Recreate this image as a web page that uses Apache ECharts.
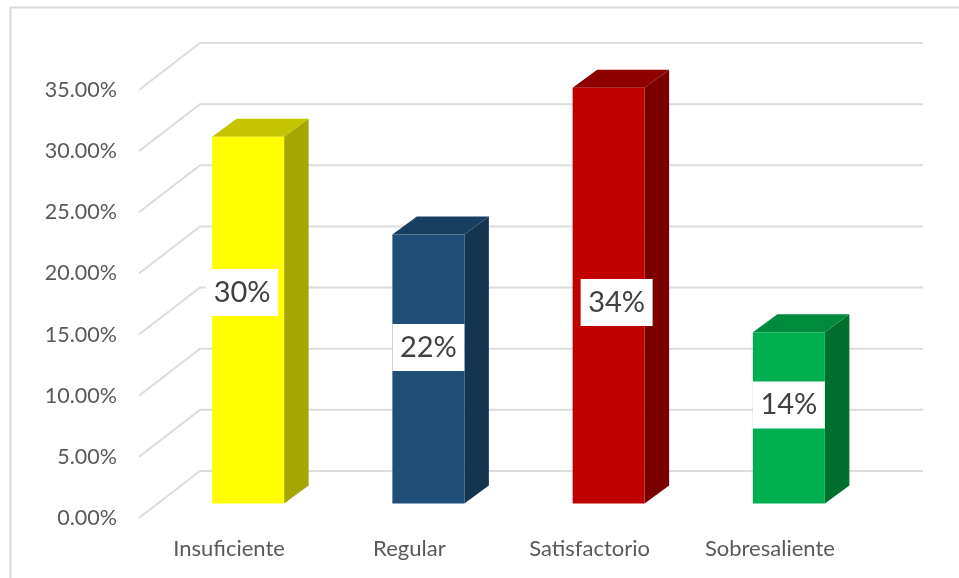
<!DOCTYPE html>
<html>
<head>
<meta charset="utf-8">
<style>
  html, body { margin: 0; padding: 0; background: #fff; }
  #chart { width: 959px; height: 578px; }
</style>
<script src="https://cdn.jsdelivr.net/npm/echarts@6/dist/echarts.min.js"></script>
</head>
<body>
<div id="chart"></div>
<script>
const categories = ['Insuficiente', 'Regular', 'Satisfactorio', 'Sobresaliente'];
const values = [30, 22, 34, 14];
const barLabels = ['30%', '22%', '34%', '14%'];
const yTicks = [0, 5, 10, 15, 20, 25, 30, 35];

// front, side, top
const barColors = [
  ['#FFFF00', '#A6A600', '#C4C400'],
  ['#1F4E79', '#15344F', '#183E60'],
  ['#C00000', '#7A0000', '#8E0000'],
  ['#00B050', '#00702F', '#008A3D']
];
// hand placed labels, pixels from the middle of the bar front
const labelShift = [[-6, -27.5], [0, -21.5], [8, 7], [0, -13]];

const wallDx = 61, wallDy = 47;  // back wall seen from the front plane
const wallExtra = 2;
const barDx = 19, barDy = 14.5;  // bar front seen from the front plane
const depthDx = 24.5, depthDy = 18;
const barWidth = 72;
const labelBoxHeight = 47;
const fontFamily = 'Lato, "Noto Sans", sans-serif';

const chart = echarts.init(document.getElementById('chart'));

function renderWall(params, api) {
  const p = api.coord([0, api.value(1)]);
  const left = params.coordSys.x;
  const right = left + params.coordSys.width;
  return {
    type: 'polyline',
    silent: true,
    shape: {
      points: [[left, p[1]], [left + wallDx, p[1] - wallDy], [right + wallDx + wallExtra, p[1] - wallDy]]
    },
    style: { fill: null, stroke: '#DCDCDC', lineWidth: 2 }
  };
}

function renderBar(params, api) {
  const i = api.value(0);
  const top = api.coord([i, api.value(1)]);
  const base = api.coord([i, 0]);
  const x0 = top[0] + barDx - barWidth / 2;
  const x1 = x0 + barWidth;
  const y0 = top[1] - barDy;
  const y1 = base[1] - barDy;
  const c = barColors[i];
  const midX = (x0 + x1) / 2 + labelShift[i][0];
  const midY = (y0 + y1) / 2 + labelShift[i][1];
  return {
    type: 'group',
    children: [
      {
        type: 'polygon',
        shape: { points: [[x1, y0], [x1 + depthDx, y0 - depthDy], [x1 + depthDx, y1 - depthDy], [x1, y1]] },
        style: { fill: c[1] }
      },
      {
        type: 'polygon',
        shape: { points: [[x0, y0], [x0 + depthDx, y0 - depthDy], [x1 + depthDx, y0 - depthDy], [x1, y0]] },
        style: { fill: c[2] }
      },
      {
        type: 'rect',
        shape: { x: x0, y: y0, width: barWidth, height: y1 - y0 },
        style: { fill: c[0] }
      },
      {
        type: 'rect',
        shape: { x: midX - barWidth / 2, y: midY - labelBoxHeight / 2, width: barWidth, height: labelBoxHeight },
        style: { fill: '#fff' }
      },
      {
        type: 'text',
        style: {
          x: midX,
          y: midY,
          text: barLabels[i],
          fill: '#404040',
          font: '29px ' + fontFamily,
          textAlign: 'center',
          textVerticalAlign: 'middle'
        }
      }
    ]
  };
}

const option = {
  animation: false,
  backgroundColor: '#fff',
  textStyle: { fontFamily: fontFamily },
  graphic: [
    {
      type: 'polyline',
      silent: true,
      shape: { points: [[10.5, 578], [10.5, 7.5], [959, 7.5]] },
      style: { fill: null, stroke: '#D9D9D9', lineWidth: 2 }
    }
  ],
  grid: { left: 139, top: 90, width: 721, height: 428 },
  xAxis: {
    type: 'category',
    data: categories,
    axisLine: { show: false },
    axisTick: { show: false },
    axisLabel: { color: '#595959', fontSize: 22, margin: 20 }
  },
  yAxis: {
    type: 'value',
    min: 0,
    max: 35,
    interval: 5,
    axisLine: { show: false },
    axisTick: { show: false },
    splitLine: { show: false },
    axisLabel: {
      color: '#595959',
      fontSize: 21.5,
      margin: 22,
      formatter: function (v) { return v.toFixed(2) + '%'; }
    }
  },
  series: [
    {
      type: 'custom',
      z: 1,
      renderItem: renderWall,
      encode: { x: 0, y: 1 },
      data: yTicks.map(function (t) { return [0, t]; })
    },
    {
      type: 'custom',
      z: 2,
      renderItem: renderBar,
      encode: { x: 0, y: 1 },
      data: values.map(function (v, i) { return [i, v]; })
    }
  ]
};
chart.setOption(option);
</script>
</body>
</html>
